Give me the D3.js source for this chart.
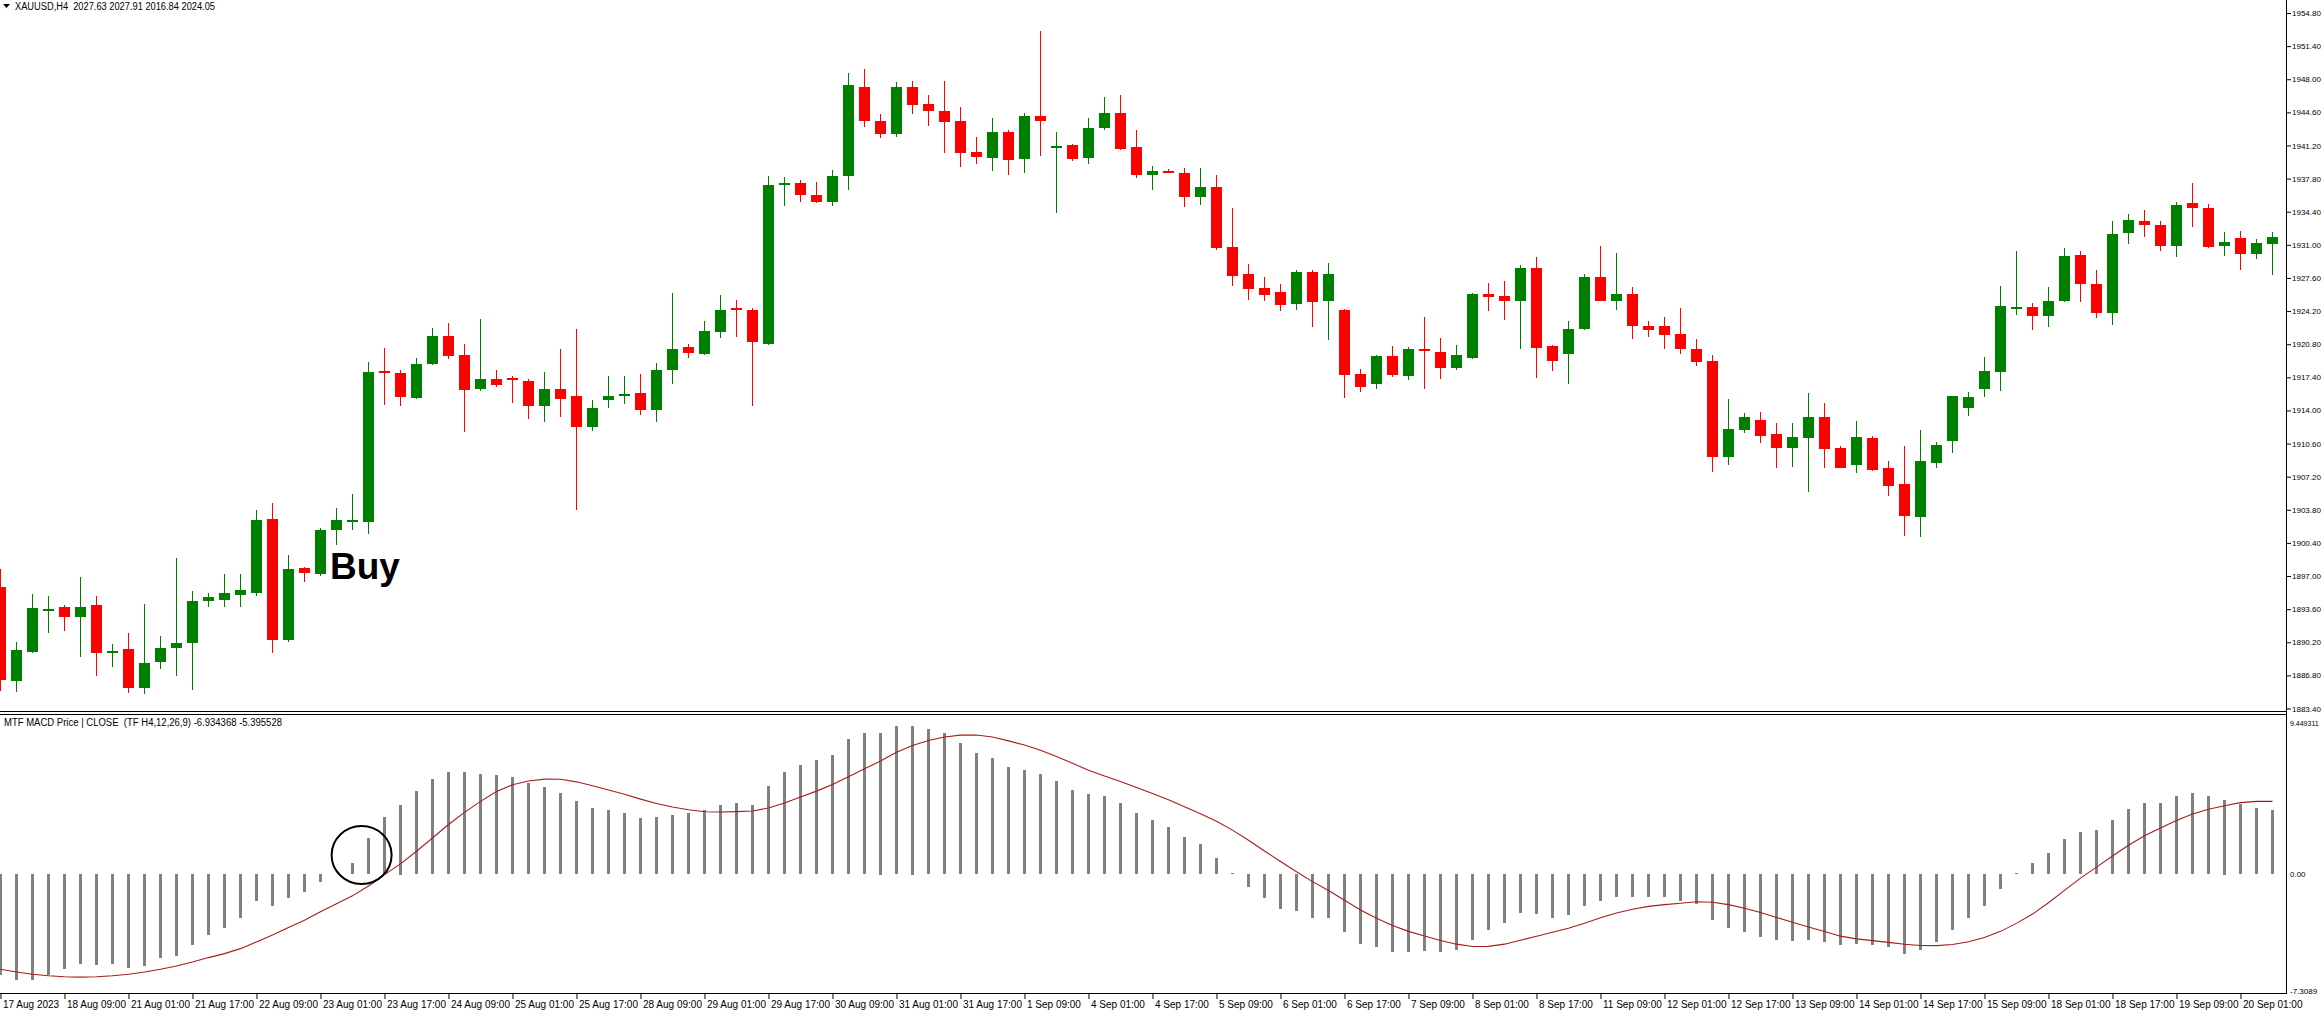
<!DOCTYPE html>
<html>
<head>
<meta charset="utf-8">
<script src="https://cdn.jsdelivr.net/npm/d3@7"></script>
<style>
  html, body { margin: 0; padding: 0; background: #FFFFFF; overflow: hidden; }
  svg text { font-family: "Liberation Sans", Arial, sans-serif; fill: #000; }
</style>
</head>
<body>
<div id="wrap"></div>
<script>
// XAUUSD H4 candles, one entry per bar (bar 0 = 17 Aug 17:00)
const opens = [1895.90,1886.26,1889.25,1893.55,1893.80,1892.76,1893.99,1889.10,1889.51,1885.55,
  1888.15,1889.58,1890.10,1894.39,1894.58,1895.04,1895.30,1902.90,1890.42,1897.83,
  1897.25,1901.74,1902.60,1902.58,1918.05,1917.86,1915.26,1918.77,1921.63,1919.68,
  1916.17,1917.21,1917.30,1917.01,1914.48,1916.17,1915.46,1912.33,1915.07,1915.50,
  1915.78,1914.09,1918.18,1920.47,1919.81,1922.09,1924.50,1924.36,1920.85,1937.10,
  1937.37,1936.13,1935.35,1938.08,1947.25,1943.74,1942.37,1947.25,1945.43,1944.78,
  1943.74,1940.49,1939.90,1942.63,1939.84,1944.26,1941.00,1941.20,1939.90,1943.02,
  1944.58,1941.00,1938.15,1938.60,1938.41,1935.87,1936.97,1930.80,1928.00,1926.57,
  1926.18,1924.95,1928.20,1925.21,1924.36,1917.73,1916.75,1919.55,1917.53,1920.27,
  1920.01,1918.38,1919.36,1925.92,1925.73,1925.21,1928.65,1920.59,1919.81,1922.41,
  1927.68,1925.27,1925.92,1922.67,1922.67,1921.83,1920.27,1919.03,1909.21,1911.94,
  1913.05,1911.55,1910.19,1911.16,1913.37,1910.12,1908.43,1911.16,1908.11,1906.42,
  1903.10,1908.63,1910.90,1914.22,1916.23,1917.99,1924.50,1924.62,1923.65,1925.21,
  1929.96,1926.96,1924.04,1932.17,1933.47,1933.08,1930.86,1935.29,1934.83,1930.86,
  1931.71,1930.02,1931.06];
const highs = [1897.70,1890.20,1895.17,1894.97,1894.06,1896.90,1894.97,1890.03,1891.20,1894.13,
  1890.88,1898.87,1895.43,1895.23,1897.25,1897.25,1903.82,1904.53,1899.20,1897.90,
  1901.93,1904.00,1905.44,1918.97,1920.40,1918.10,1919.36,1922.48,1923.00,1920.79,
  1923.39,1918.12,1917.50,1917.20,1917.99,1920.27,1922.35,1915.07,1917.53,1917.53,
  1917.73,1918.84,1926.05,1920.79,1923.13,1925.86,1925.34,1924.50,1938.08,1938.00,
  1937.70,1937.50,1938.67,1948.68,1949.07,1944.45,1947.70,1947.77,1946.34,1947.77,
  1945.10,1942.11,1944.06,1942.80,1944.52,1952.97,1942.57,1941.33,1944.06,1946.21,
  1946.34,1942.83,1939.12,1938.80,1938.93,1938.93,1938.21,1934.83,1929.04,1927.68,
  1926.96,1928.46,1928.39,1929.17,1924.40,1918.25,1919.68,1920.66,1920.53,1923.58,
  1921.44,1920.72,1926.05,1927.09,1927.29,1928.91,1929.76,1920.72,1923.19,1928.00,
  1930.86,1930.15,1926.70,1923.19,1923.58,1924.49,1921.31,1919.68,1915.13,1913.70,
  1913.83,1912.66,1912.66,1915.78,1914.74,1910.32,1912.92,1911.36,1908.76,1910.38,
  1912.01,1910.71,1915.50,1915.91,1919.49,1926.77,1930.41,1925.01,1926.64,1930.67,
  1930.34,1928.46,1933.47,1934.18,1934.57,1933.40,1935.42,1937.37,1935.22,1932.30,
  1932.43,1931.65,1932.36];
const lows = [1885.20,1885.10,1889.06,1891.20,1891.40,1888.73,1886.78,1887.63,1885.03,1884.90,
  1887.50,1886.78,1885.35,1893.80,1893.80,1893.80,1894.97,1889.12,1890.23,1896.40,
  1897.05,1900.20,1901.74,1901.28,1914.60,1914.48,1915.20,1918.64,1919.23,1911.81,
  1916.04,1916.36,1914.74,1913.10,1912.85,1913.31,1903.75,1911.88,1914.28,1914.68,
  1913.57,1912.85,1916.75,1919.42,1919.68,1921.44,1921.57,1914.48,1920.72,1935.03,
  1935.42,1935.29,1934.96,1936.65,1943.09,1941.92,1942.05,1944.45,1943.22,1940.42,
  1938.99,1939.32,1938.60,1938.15,1938.41,1940.10,1934.31,1939.58,1939.25,1942.83,
  1940.75,1937.82,1936.65,1938.35,1934.90,1935.09,1930.47,1926.77,1925.34,1925.27,
  1924.17,1924.30,1922.54,1921.18,1915.32,1915.91,1916.17,1917.47,1917.08,1916.23,
  1917.27,1918.12,1919.23,1924.23,1923.32,1920.27,1917.34,1918.05,1916.69,1922.28,
  1925.27,1924.30,1921.31,1921.50,1920.27,1919.81,1918.51,1907.65,1908.37,1911.68,
  1910.64,1908.11,1908.24,1905.64,1908.04,1908.04,1907.59,1907.78,1905.25,1901.15,
  1901.02,1908.04,1909.67,1913.44,1915.39,1916.04,1923.84,1922.28,1922.54,1925.08,
  1925.08,1923.45,1922.80,1931.13,1931.78,1930.34,1929.76,1932.82,1930.67,1929.83,
  1928.39,1929.57,1927.94];
const closes = [1886.30,1889.38,1893.74,1893.65,1892.76,1893.87,1889.06,1889.35,1885.55,1888.08,
  1889.58,1890.10,1894.45,1894.84,1895.23,1895.56,1902.78,1890.42,1897.70,1897.31,
  1901.74,1902.71,1902.80,1917.99,1917.90,1915.39,1918.77,1921.63,1919.55,1916.10,
  1917.21,1916.56,1917.10,1914.48,1916.17,1915.13,1912.33,1914.22,1915.52,1915.65,
  1914.09,1918.12,1920.27,1919.94,1922.15,1924.36,1924.30,1920.98,1937.17,1937.30,
  1936.13,1935.42,1938.02,1947.38,1943.74,1942.37,1947.25,1945.36,1944.78,1943.61,
  1940.42,1940.03,1942.63,1939.71,1944.26,1943.74,1941.10,1939.84,1943.02,1944.58,
  1940.88,1938.21,1938.54,1938.50,1935.87,1936.97,1930.67,1927.81,1926.44,1925.86,
  1924.82,1928.20,1925.14,1928.00,1917.67,1916.43,1919.55,1917.60,1920.33,1920.10,
  1918.38,1919.68,1925.92,1925.60,1925.21,1928.65,1920.40,1919.10,1922.41,1927.68,
  1925.27,1925.92,1922.67,1922.22,1921.76,1920.27,1918.97,1909.21,1912.07,1913.37,
  1911.42,1910.19,1911.23,1913.37,1910.00,1908.04,1911.23,1907.91,1906.29,1903.17,
  1908.76,1910.45,1915.46,1915.39,1918.00,1924.69,1924.60,1923.65,1925.21,1929.89,
  1926.96,1924.04,1932.10,1933.60,1933.01,1930.86,1935.09,1934.77,1930.80,1931.32,
  1930.02,1931.19,1931.84];

// MTF MACD: histogram (main) and signal line
const macdMain = [-6.30,-6.60,-6.60,-6.32,-5.93,-5.61,-5.69,-5.61,-5.85,-5.73,
  -5.26,-5.14,-4.47,-3.83,-3.36,-2.77,-1.70,-1.98,-1.50,-1.15,
  -0.47,0.02,0.67,2.25,3.56,4.35,5.18,5.97,6.36,6.36,
  6.28,6.17,6.05,5.69,5.42,5.06,4.55,4.15,3.99,3.83,
  3.48,3.56,3.72,3.83,4.03,4.31,4.47,4.31,5.49,6.36,
  6.84,7.11,7.47,8.42,8.81,8.85,9.25,9.29,9.09,8.81,
  8.22,7.59,7.23,6.68,6.48,6.25,5.81,5.26,5.02,4.90,
  4.47,3.83,3.36,2.92,2.29,1.90,1.03,0.08,-0.83,-1.50,
  -2.17,-2.33,-2.73,-2.73,-3.60,-4.35,-4.58,-4.86,-4.86,-4.82,
  -4.86,-4.74,-4.11,-3.52,-3.04,-2.41,-2.53,-2.73,-2.57,-1.98,
  -1.66,-1.42,-1.42,-1.46,-1.46,-1.70,-1.86,-2.85,-3.36,-3.60,
  -3.91,-4.15,-4.19,-4.15,-4.23,-4.47,-4.35,-4.43,-4.58,-4.98,
  -4.74,-4.27,-3.52,-2.77,-2.02,-0.91,0.04,0.71,1.34,2.21,
  2.65,2.73,3.40,4.07,4.43,4.47,4.86,5.06,4.86,4.66,
  4.39,4.15,4.03];
const macdSignal = [-5.95,-6.12,-6.26,-6.36,-6.42,-6.44,-6.42,-6.36,-6.26,-6.12,
  -5.95,-5.75,-5.50,-5.22,-4.97,-4.66,-4.24,-3.81,-3.34,-2.88,
  -2.36,-1.86,-1.36,-0.74,-0.03,0.64,1.43,2.26,3.10,3.86,
  4.55,5.16,5.59,5.82,5.94,5.93,5.77,5.53,5.26,4.99,
  4.69,4.41,4.20,4.02,3.90,3.88,3.91,3.95,4.13,4.45,
  4.82,5.19,5.60,6.09,6.59,7.07,7.62,8.04,8.35,8.57,
  8.69,8.70,8.57,8.33,8.07,7.74,7.35,6.93,6.50,6.14,
  5.79,5.41,5.04,4.65,4.21,3.77,3.30,2.75,2.12,1.45,
  0.79,0.15,-0.47,-1.03,-1.64,-2.24,-2.76,-3.21,-3.58,-3.87,
  -4.15,-4.38,-4.53,-4.52,-4.38,-4.14,-3.88,-3.64,-3.39,-3.07,
  -2.73,-2.43,-2.20,-2.02,-1.91,-1.82,-1.73,-1.76,-1.91,-2.13,
  -2.40,-2.71,-3.01,-3.31,-3.59,-3.88,-4.05,-4.16,-4.27,-4.39,
  -4.46,-4.47,-4.40,-4.23,-3.96,-3.58,-3.08,-2.50,-1.79,-1.02,
  -0.25,0.44,1.13,1.80,2.40,2.89,3.35,3.76,4.06,4.28,
  4.47,4.55,4.55];

// axis labels
const priceTicks = [1954.80,1951.40,1948.00,1944.60,1941.20,1937.80,1934.40,1931.00,1927.60,1924.20,
  1920.80,1917.40,1914.00,1910.60,1907.20,1903.80,1900.40,1897.00,1893.60,1890.20,1886.80,1883.40];
const macdTicks = [9.449311, 0, -7.3089];
const macdTickText = ['9.449311', '0.00', '-7.3089'];
const timeLabels = ['17 Aug 2023','18 Aug 09:00','21 Aug 01:00','21 Aug 17:00','22 Aug 09:00','23 Aug 01:00',
  '23 Aug 17:00','24 Aug 09:00','25 Aug 01:00','25 Aug 17:00','28 Aug 09:00','29 Aug 01:00',
  '29 Aug 17:00','30 Aug 09:00','31 Aug 01:00','31 Aug 17:00','1 Sep 09:00','4 Sep 01:00',
  '4 Sep 17:00','5 Sep 09:00','6 Sep 01:00','6 Sep 17:00','7 Sep 09:00','8 Sep 01:00',
  '8 Sep 17:00','11 Sep 09:00','12 Sep 01:00','12 Sep 17:00','13 Sep 09:00','14 Sep 01:00',
  '14 Sep 17:00','15 Sep 09:00','18 Sep 01:00','18 Sep 17:00','19 Sep 09:00','20 Sep 01:00'];
const LABEL_EVERY = 4;// one time label every 4 bars

const titleText = 'XAUUSD,H4  2027.63 2027.91 2016.84 2024.05';
const macdTitle = 'MTF MACD Price | CLOSE  (TF H4,12,26,9) -6.934368 -5.395528';

xauChart()
function xauChart(){
  const WIDTH = 2324;
  const HEIGHT = 1016;
  const AXIS_X = 2286;// right price scale line
  const BAR_STEP = 16;// pixels per bar
  const PRICE_BOTTOM = 711;
  const MACD_TOP = 715;
  const MACD_BOTTOM = 993;
  const BULL = '#008000';
  const BEAR = '#FF0000';

  let svg = d3.select('#wrap')
    .append('svg')
    .attr('width', WIDTH)
    .attr('height', HEIGHT)
    .style('background', '#FFFFFF')
    .style('display', 'block')

  let bars = closes.map((c, i)=>{
    return {i: i, o: opens[i], h: highs[i], l: lows[i], c: c}
  })

  // bar index -> x
  let xScale = d3.scaleLinear()
    .domain([0, bars.length - 1])
    .range([0, BAR_STEP * (bars.length - 1)])

  // price -> y
  let yPrice = d3.scaleLinear()
    .domain([1883.40, 1954.80])
    .range([708.5, 13])

  // macd -> y
  let yMacd = d3.scaleLinear()
    .domain([-7.3089, 9.449311])
    .range([991, 723])

  let px = i => Math.round(xScale(i));

  // clip for each panel
  let defs = svg.append('defs');
  defs.append('clipPath').attr('id', 'clipPrice')
    .append('rect').attr('x', 0).attr('y', 0).attr('width', AXIS_X).attr('height', PRICE_BOTTOM)
  defs.append('clipPath').attr('id', 'clipMacd')
    .append('rect').attr('x', 0).attr('y', MACD_TOP).attr('width', AXIS_X).attr('height', MACD_BOTTOM - MACD_TOP)

  // candles
  let candleGroup = svg.append('g').attr('id', 'candles').attr('clip-path', 'url(#clipPrice)')
    .style('shape-rendering', 'crispEdges')

  candleGroup.selectAll('line')
    .data(bars)
    .enter()
    .append('line')
    .attr('x1', d=>px(d.i) + 0.5)
    .attr('x2', d=>px(d.i) + 0.5)
    .attr('y1', d=>Math.round(yPrice(d.h)))
    .attr('y2', d=>Math.round(yPrice(d.l)))
    .attr('stroke', d=>d.c >= d.o ? BULL : BEAR)
    .attr('stroke-width', 1)

  candleGroup.selectAll('rect')
    .data(bars)
    .enter()
    .append('rect')
    .attr('x', d=>px(d.i) - 5)
    .attr('width', 11)
    .attr('y', d=>{
      let top = Math.round(yPrice(Math.max(d.o, d.c)));
      let bot = Math.round(yPrice(Math.min(d.o, d.c)));
      return bot - top < 2 ? Math.round((top + bot) / 2) - 1 : top
    })
    .attr('height', d=>{
      let top = Math.round(yPrice(Math.max(d.o, d.c)));
      let bot = Math.round(yPrice(Math.min(d.o, d.c)));
      return Math.max(2, bot - top)
    })
    .attr('fill', d=>d.c >= d.o ? BULL : BEAR)

  // macd histogram
  let histGroup = svg.append('g').attr('id', 'hist').attr('clip-path', 'url(#clipMacd)')
    .style('shape-rendering', 'crispEdges')
  histGroup.selectAll('rect')
    .data(macdMain)
    .enter()
    .append('rect')
    .attr('x', (d, i)=>px(i) - 1)
    .attr('width', 3)
    .attr('y', d=>Math.round(Math.min(yMacd(0), yMacd(d))))
    .attr('height', d=>Math.max(0, Math.round(Math.abs(yMacd(d) - yMacd(0)))))
    .attr('fill', '#808080')

  // macd signal line
  let signalLine = d3.line()
    .x((d, i)=>xScale(i) + 0.5)
    .y(d=>yMacd(d))
    .curve(d3.curveLinear)
  svg.append('path')
    .attr('clip-path', 'url(#clipMacd)')
    .attr('d', signalLine(macdSignal))
    .attr('fill', 'none')
    .attr('stroke', '#A81C1C')
    .attr('stroke-width', 1.1)

  // frame lines
  let frame = svg.append('g').attr('id', 'frame').style('shape-rendering', 'crispEdges')
  frame.append('line').attr('x1', 0).attr('x2', AXIS_X).attr('y1', 711.5).attr('y2', 711.5).attr('stroke', '#000')
  frame.append('line').attr('x1', 0).attr('x2', AXIS_X).attr('y1', 714.5).attr('y2', 714.5).attr('stroke', '#000')
  frame.append('line').attr('x1', 0).attr('x2', AXIS_X + 1).attr('y1', MACD_BOTTOM + 0.5).attr('y2', MACD_BOTTOM + 0.5).attr('stroke', '#000')
  frame.append('line').attr('x1', AXIS_X + 0.5).attr('x2', AXIS_X + 0.5).attr('y1', 0).attr('y2', MACD_BOTTOM + 1).attr('stroke', '#000')

  // scale labels: small enough to sit inside the strip right of the axis
  function fitLabels(g){
    g.selectAll('text')
      .attr('font-family', null)
      .style('font-size', '8px')
  }

  // price axis
  let priceAxis = d3.axisRight(yPrice)
    .tickValues(priceTicks)
    .tickSize(4)
    .tickPadding(1)
    .tickFormat(d3.format('.2f'))
  svg.append('g')
    .attr('id', 'yAxis')
    .attr('transform', 'translate(' + (AXIS_X + 1) + ',0)')
    .call(priceAxis)
    .call(g=>g.select('.domain').remove())
    .call(fitLabels)

  // macd axis
  let macdAxis = d3.axisRight(yMacd)
    .tickValues(macdTicks)
    .tickSize(0)
    .tickPadding(3)
    .tickFormat((d, i)=>macdTickText[i])
  svg.append('g')
    .attr('id', 'macdAxis')
    .attr('transform', 'translate(' + (AXIS_X + 1) + ',0)')
    .call(macdAxis)
    .call(g=>g.select('.domain').remove())
    .call(fitLabels)
    .call(g=>g.selectAll('text').filter((d, i)=>i === 0).style('font-size', '7px'))

  // time axis
  let timeAxis = d3.axisBottom(xScale)
    .tickValues(timeLabels.map((d, i)=>i * LABEL_EVERY))
    .tickSize(5)
    .tickPadding(2)
    .tickFormat((d, i)=>timeLabels[i])
  svg.append('g')
    .attr('id', 'xAxis')
    .attr('transform', 'translate(0.5,' + (MACD_BOTTOM + 1) + ')')
    .call(timeAxis)
    .call(g=>g.select('.domain').remove())
    .call(g=>g.selectAll('text')
      .attr('text-anchor', 'start')
      .attr('x', 2)
      .attr('font-family', null)
      .style('font-size', '10px'))

  // titles
  svg.append('path')
    .attr('d', 'M3,4 L10,4 L6.5,8 Z')
    .attr('fill', '#000')
  svg.append('text')
    .attr('x', 15)
    .attr('y', 10)
    .style('font-size', '10px')
    .attr('xml:space', 'preserve')
    .attr('textLength', 200)
    .attr('lengthAdjust', 'spacingAndGlyphs')
    .text(titleText)
  svg.append('text')
    .attr('x', 4)
    .attr('y', 726)
    .style('font-size', '10px')
    .attr('xml:space', 'preserve')
    .attr('textLength', 278)
    .attr('lengthAdjust', 'spacingAndGlyphs')
    .text(macdTitle)

  // annotations: Buy signal
  svg.append('text')
    .attr('x', xScale(20) + 10)
    .attr('y', yPrice(1896.7))
    .style('font-size', '37px')
    .style('font-weight', 'bold')
    .text('Buy')
  svg.append('ellipse')
    .attr('cx', xScale(22.6))
    .attr('cy', yMacd(1.2))
    .attr('rx', 30)
    .attr('ry', 29)
    .attr('fill', 'none')
    .attr('stroke', '#000')
    .attr('stroke-width', 2)
}
</script>
</body>
</html>
